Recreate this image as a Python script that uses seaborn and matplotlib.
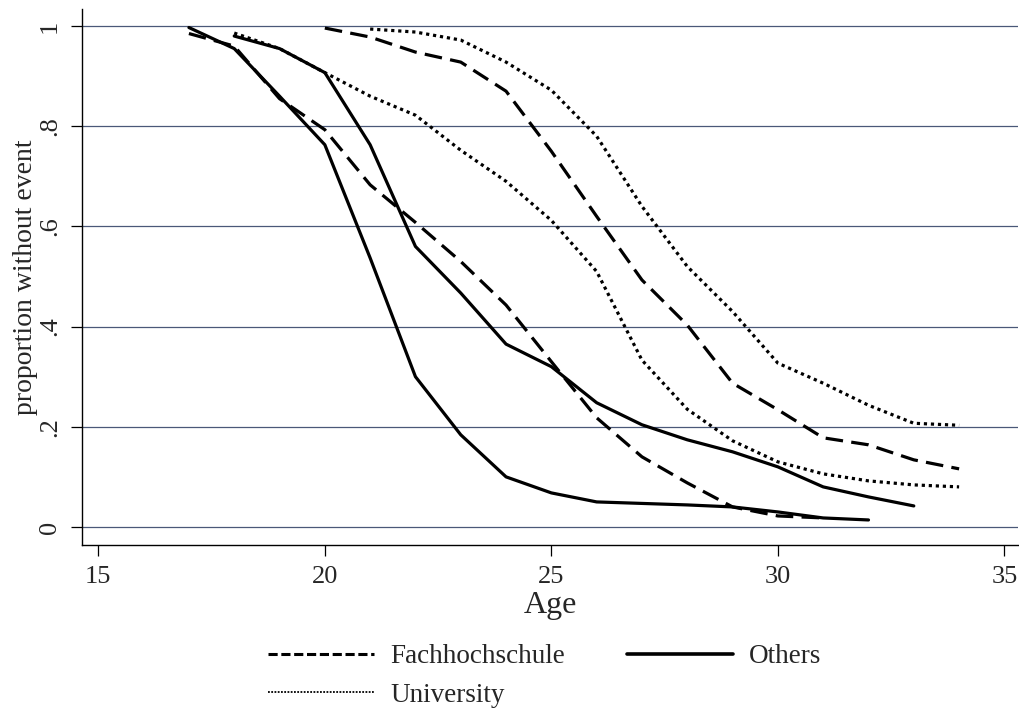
import matplotlib

matplotlib.use("Agg")
import matplotlib.pyplot as plt
import numpy as np
import pandas as pd
import seaborn as sns
from matplotlib.lines import Line2D

# Survival curves (proportion without event by age)
ages_fh_a = list(range(17, 32))
fh_a = [0.985, 0.96, 0.855, 0.793, 0.683, 0.608, 0.53, 0.443, 0.33, 0.218,
        0.14, 0.088, 0.04, 0.022, 0.018]
ages_fh_b = list(range(20, 35))
fh_b = [0.996, 0.978, 0.948, 0.928, 0.87, 0.75, 0.62, 0.493, 0.403, 0.287,
        0.234, 0.178, 0.164, 0.134, 0.116]

ages_ot_a = list(range(17, 33))
ot_a = [0.997, 0.955, 0.86, 0.763, 0.537, 0.30, 0.184, 0.10, 0.068, 0.05,
        0.047, 0.044, 0.04, 0.03, 0.018, 0.014]
ages_ot_b = list(range(18, 34))
ot_b = [0.98, 0.955, 0.907, 0.763, 0.56, 0.467, 0.365, 0.32, 0.248, 0.204,
        0.174, 0.15, 0.12, 0.08, 0.06, 0.042]

ages_un_a = list(range(18, 35))
un_a = [0.986, 0.955, 0.907, 0.86, 0.822, 0.752, 0.69, 0.612, 0.51, 0.333,
        0.235, 0.172, 0.13, 0.106, 0.092, 0.084, 0.08]
ages_un_b = list(range(21, 35))
un_b = [0.994, 0.988, 0.972, 0.928, 0.872, 0.78, 0.64, 0.52, 0.43, 0.327,
        0.287, 0.243, 0.207, 0.203]

x_ticks = [15, 20, 25, 30, 35]
y_ticks = [0, 0.2, 0.4, 0.6, 0.8, 1]
y_tick_labels = ["0", ".2", ".4", ".6", ".8", "1"]
legend_order = ["Fachhochschule", "Others", "University"]

curves = [
    ("Fachhochschule", "fh_a", ages_fh_a, fh_a),
    ("Fachhochschule", "fh_b", ages_fh_b, fh_b),
    ("Others", "ot_a", ages_ot_a, ot_a),
    ("Others", "ot_b", ages_ot_b, ot_b),
    ("University", "un_a", ages_un_a, un_a),
    ("University", "un_b", ages_un_b, un_b),
]
df = pd.concat(
    [pd.DataFrame({"edu": e, "group": g, "age": a, "surv": s}) for e, g, a, s in curves],
    ignore_index=True,
)

sns.set_style("white")
plt.rcParams["font.family"] = ["Liberation Serif", "DejaVu Serif"]

dash_map = {
    "Fachhochschule": (5.5, 2.6),
    "Others": "",
    "University": (1.0, 1.2),
}
grid_col = "#4a5878"

fig = plt.figure(figsize=(10.2, 7.18), dpi=100)
ax = fig.add_axes([82 / 1020, 1 - 545 / 718, (1018 - 82) / 1020, (545 - 9) / 718])

sns.lineplot(
    data=df, x="age", y="surv", style="edu", units="group", estimator=None,
    dashes=dash_map, color="black", linewidth=2.3, legend=False, ax=ax,
    sort=False,
)

ax.set_xlim(14.64, 35.30)
ax.set_ylim(-0.036, 1.034)
ax.set_xticks(x_ticks)
ax.set_yticks(y_ticks)
ax.set_yticklabels(y_tick_labels, rotation=90, va="center")
for y in y_ticks:
    ax.axhline(y, color=grid_col, lw=0.9, zorder=0)

for side in ["top", "right"]:
    ax.spines[side].set_visible(False)
for side in ["left", "bottom"]:
    ax.spines[side].set_color("black")
    ax.spines[side].set_linewidth(1.0)
ax.tick_params(axis="both", direction="out", length=8, width=0.9, color="black",
               labelsize=19, pad=7, left=True, bottom=True)
ax.set_xlabel("Age", fontsize=23, labelpad=2)
ax.set_ylabel("proportion without event", fontsize=20, labelpad=1)

handles = [
    Line2D([], [], color="black", lw=2.2, dashes=(3.0, 1.2)),
    Line2D([], [], color="black", lw=2.6),
    Line2D([], [], color="black", lw=1.3, dashes=(1.0, 0.8)),
]
# column-major fill: Fachhochschule, University | Others
order = [0, 2, 1]
fig.legend(
    [handles[i] for i in order], [legend_order[i] for i in order],
    ncol=2, loc="upper center", bbox_to_anchor=(545 / 1020, 1 - 620 / 718),
    frameon=False, fontsize=19.5, handlelength=3.9, handletextpad=0.6,
    columnspacing=2.3, labelspacing=0.5,
)

fig.savefig("out.png", dpi=100)
